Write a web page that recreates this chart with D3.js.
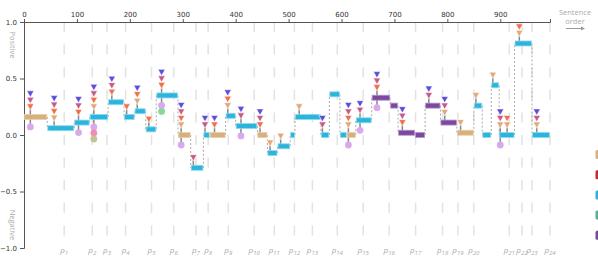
<!DOCTYPE html>
<html>
<head>
<meta charset="utf-8">
<script src="https://cdn.jsdelivr.net/npm/d3@7"></script>
<style>
    body { margin: 0; background: #fff; }
    svg { display: block; }
    .axis text { font-family: "DejaVu Sans", sans-serif; font-size: 7px; fill: #333; }
    .axis path, .axis line { stroke: #555; }
    .soft { font-family: "Open Sans", sans-serif; font-size: 7.5px; fill: #aaa; }
</style>
</head>
<body>
<div id="canvas"></div>
<script>
"use strict"

// sentence segments: start / end (sentence order), sentiment value, type
let segStart = [0, 44, 95, 124, 159, 189, 209, 230, 250, 291, 315, 339, 351, 381, 400, 441, 460, 479, 503, 512,
    561, 577, 597, 610, 627, 657, 692, 707, 739, 758, 787, 818, 850, 866, 883, 898, 927, 960]
let segEnd = [44, 95, 124, 159, 189, 209, 230, 250, 291, 315, 339, 351, 381, 400, 441, 460, 479, 503, 512, 561,
    577, 597, 610, 627, 657, 692, 707, 739, 758, 787, 818, 850, 866, 883, 898, 927, 960, 994]
let segValue = [0.16, 0.06, 0.11, 0.16, 0.29, 0.16, 0.21, 0.05, 0.35, 0, -0.29, 0, 0, 0.17, 0.08, 0, -0.16, -0.1, 0, 0.16,
    0, 0.36, 0, 0, 0.13, 0.33, 0.26, 0.02, 0, 0.26, 0.11, 0.02, 0.26, 0, 0.44, 0, 0.81, 0]
let segType = ["t", "c", "c", "c", "c", "c", "c", "c", "c", "t", "c", "c", "t", "c", "c", "t", "c", "c", "c", "c",
    "c", "c", "c", "t", "c", "p", "p", "p", "p", "p", "p", "t", "c", "c", "c", "c", "c", "c"]

// markers: position, triangles (top to bottom), dots (top to bottom)
let markX = [12, 57, 103, 132, 166, 194, 214, 236, 260, 297, 320, 342, 360, 385, 410, 446, 465, 485, 520, 564,
    613, 635, 667, 715, 765, 795, 825, 854, 886, 900, 913, 936, 969]
let markTri = ["bpo", "bpot", "bpo", "bpot", "bpo", "o", "bot", "o", "bpo", "bpot", "p", "bp", "bo", "bot", "bp", "bpo", "t", "t", "t", "bp",
    "bpot", "bp", "bpo", "bpo", "bp", "bpt", "t", "t", "t", "bpt", "ot", "ot", "bpt"]
let markDot = ["l", "", "l", "lkv", "", "", "", "", "lg", "l", "", "", "", "", "l", "", "", "", "", "",
    "l", "l", "l", "", "", "", "", "", "", "l", "", "", ""]

// paragraph boundaries
let paraPos = [76, 129, 157, 192, 241, 283, 325, 348, 386, 435, 473, 511, 545, 592, 641, 690, 740, 791, 820, 850,
    917, 941, 960, 994]

let xTicks = [0, 100, 200, 300, 400, 500, 600, 700, 800, 900]
let yTicks = [-1, -0.5, 0, 0.5, 1]

let segColor = { t: "#d7b07e", c: "#2cb5dc", p: "#7c479f" }
let segEdge = { t: "#e8cfa8", c: "#8fd8ef", p: "#b592cc" }
let triColor = { b: "#5a4fdc", p: "#c85a8a", o: "#f0704a", t: "#e2a978" }
let dotColor = { l: "#d9a9ee", g: "#85d79c", k: "#f08db2", v: "#c4c393" }
let legendColors = ["#d7b07e", "#c62a30", "#2cb5dc", "#52b494", "#7c479f"]

let svgWidth = 598
let svgHeight = 263

let svg = d3.select("#canvas")
    .append("svg")
    .attr("width", svgWidth)
    .attr("height", svgHeight)

let xScale = d3.scaleLinear().domain([0, 994]).range([24, 550])
let yScale = d3.scaleLinear().domain([-1, 1]).range([248, 22])

let segs = segStart.map(function(s, i) {
    return { start: s, end: segEnd[i], value: segValue[i], type: segType[i] }
})

function valueAt(x) {
    let s = segs.find(function(d) { return x >= d.start && x < d.end })
    return s ? s.value : 0
}

let marks = markX.map(function(x, i) {
    return { x: x, value: valueAt(x), tri: markTri[i].split(""), dot: markDot[i].split("").filter(Boolean) }
})

// ---------------- GRID ----------------
svg.append("g").selectAll("line")
    .data(paraPos)
    .enter()
    .append("line")
    .attr("x1", function(d) { return xScale(d) })
    .attr("x2", function(d) { return xScale(d) })
    .attr("y1", yScale(1))
    .attr("y2", yScale(-1))
    .attr("stroke", "#e2e2e2")
    .attr("stroke-width", 1.5)
    .attr("stroke-dasharray", "10,12.6")

let plabels = svg.append("g").selectAll("text")
    .data(paraPos)
    .enter()
    .append("text")
    .attr("class", "soft")
    .attr("x", function(d) { return xScale(d) })
    .attr("y", 253)
    .attr("text-anchor", "middle")
    .style("font-style", "italic")
    .style("font-size", "8px")

plabels.append("tspan").text("p")
plabels.append("tspan")
    .attr("dy", 2)
    .style("font-size", "6px")
    .text(function(d, i) { return i + 1 })

// ---------------- AXES ----------------
svg.append("g")
    .attr("class", "axis")
    .attr("transform", `translate(0, ${yScale(1)})`)
    .call(d3.axisTop(xScale).tickValues(xTicks).tickSize(3).tickSizeOuter(3).tickPadding(2))

svg.append("g")
    .attr("class", "axis")
    .attr("transform", `translate(${xScale(0)}, 0)`)
    .call(d3.axisLeft(yScale).tickValues(yTicks).tickFormat(d3.format(".1f")).tickSize(4).tickSizeOuter(4).tickPadding(3))

svg.append("text")
    .attr("class", "soft")
    .attr("transform", `translate(10, 45) rotate(90)`)
    .attr("text-anchor", "middle")
    .text("Positive")

svg.append("text")
    .attr("class", "soft")
    .attr("transform", `translate(10, 225) rotate(90)`)
    .attr("text-anchor", "middle")
    .text("Negative")

svg.append("text")
    .attr("class", "soft")
    .attr("x", 575)
    .attr("y", 15)
    .attr("text-anchor", "middle")
    .text("Sentence")

svg.append("text")
    .attr("class", "soft")
    .attr("x", 575)
    .attr("y", 24)
    .attr("text-anchor", "middle")
    .text("order")

svg.append("line")
    .attr("x1", 566).attr("x2", 582)
    .attr("y1", 28.5).attr("y2", 28.5)
    .attr("stroke", "#999")
    .attr("stroke-width", 1)

svg.append("path")
    .attr("d", "M581,26.5 L585,28.5 L581,30.5 Z")
    .attr("fill", "#999")

// ---------------- CONNECTORS ----------------
svg.append("g").selectAll("line")
    .data(segs.slice(1))
    .enter()
    .append("line")
    .attr("x1", function(d) { return xScale(d.start) })
    .attr("x2", function(d) { return xScale(d.start) })
    .attr("y1", function(d, i) { return yScale(segs[i].value) })
    .attr("y2", function(d) { return yScale(d.value) })
    .attr("stroke", "#aaa")
    .attr("stroke-width", 1)
    .attr("stroke-dasharray", "2,2")

// ---------------- STEMS ----------------
let triStep = 6.5
let dotStep = 6
let gap = 10

svg.append("g").selectAll("line")
    .data(marks)
    .enter()
    .append("line")
    .attr("x1", function(d) { return xScale(d.x) })
    .attr("x2", function(d) { return xScale(d.x) })
    .attr("y1", function(d) { return yScale(d.value) - gap })
    .attr("y2", function(d) {
        return d.dot.length ? yScale(d.value) + gap + (d.dot.length - 1) * dotStep : yScale(d.value)
    })
    .attr("stroke", "#888")
    .attr("stroke-width", 1.5)

// ---------------- BARS ----------------
svg.append("g").selectAll("rect")
    .data(segs)
    .enter()
    .append("rect")
    .attr("x", function(d) { return xScale(d.start) + 0.5 })
    .attr("y", function(d) { return yScale(d.value) - 2.5 })
    .attr("width", function(d) { return xScale(d.end) - xScale(d.start) - 1 })
    .attr("height", 5)
    .attr("fill", function(d) { return segColor[d.type] })
    .attr("stroke", function(d) { return segEdge[d.type] })
    .attr("stroke-width", 0.8)

// ---------------- MARKERS ----------------
let triangles = []
let dots = []
marks.forEach(function(m) {
    let n = m.tri.length
    m.tri.forEach(function(c, k) {
        triangles.push({ x: m.x, y: yScale(m.value) - gap - (n - 1 - k) * triStep, c: c })
    })
    m.dot.forEach(function(c, k) {
        dots.push({ x: m.x, y: yScale(m.value) + gap + k * dotStep, c: c })
    })
})

svg.append("g").selectAll("path")
    .data(triangles)
    .enter()
    .append("path")
    .attr("transform", function(d) { return `translate(${xScale(d.x)},${d.y})` })
    .attr("d", "M-3.6,-3.1 L3.6,-3.1 L0,3.3 Z")
    .attr("fill", function(d) { return triColor[d.c] })
    .attr("stroke", "#fff")
    .attr("stroke-width", 0.6)

svg.append("g").selectAll("circle")
    .data(dots)
    .enter()
    .append("circle")
    .attr("cx", function(d) { return xScale(d.x) })
    .attr("cy", function(d) { return d.y })
    .attr("r", 3.4)
    .attr("fill", function(d) { return dotColor[d.c] })

// ---------------- LEGEND ----------------
svg.append("g").selectAll("rect")
    .data(legendColors)
    .enter()
    .append("rect")
    .attr("x", 595.5)
    .attr("y", function(d, i) { return 150 + i * 20.2 })
    .attr("width", 10)
    .attr("height", 9)
    .attr("rx", 1.5)
    .attr("fill", function(d) { return d })
</script>
</body>
</html>
